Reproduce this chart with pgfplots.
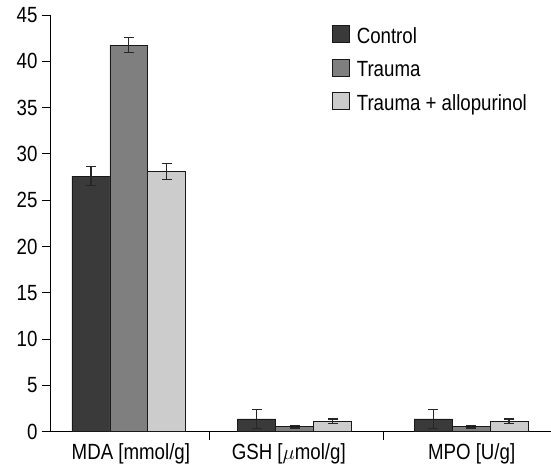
\documentclass[border=0pt]{standalone}
\usepackage{pgfplots}
\pgfplotsset{compat=1.18}
\usepackage{fontspec}
\setmainfont{Liberation Sans}[FakeStretch=0.85]
\definecolor{cCtrl}{HTML}{3A3A3A}
\definecolor{cTr}{HTML}{7F7F7F}
\definecolor{cAllo}{HTML}{CCCCCC}
\newcommand{\fs}{\fontsize{22}{26}\selectfont}
\begin{document}
\begin{tikzpicture}
\begin{axis}[
  at={(0,0)}, anchor=south west,
  scale only axis, width=501pt, height=417pt,
  xmin=50, xmax=551, ymin=0, ymax=45,
  axis lines=left, axis line style={-, line width=0.9pt},
  ytick={0,5,...,45},
  xtick={209.3,383.3}, xticklabels={},
  extra x ticks={131,289,472},
  extra x tick labels={MDA [mmol/g], GSH [$\mu$mol/g], MPO [U/g]},
  extra x tick style={major tick length=0pt, tick label style={yshift=-8pt}},
  tick align=outside, major tick length=8pt,
  tick style={line width=0.9pt, black},
  tick label style={font=\fs},
  yticklabel style={xshift=-1pt},
  /pgf/number format/assume math mode=true,
  ybar=0pt, bar width=38,
  enlargelimits=false,
  clip=false,
  legend style={at={(rel axis cs:0.563,0.976)}, anchor=north west, draw=none, fill=none,
    font=\fs, row sep=12pt, cells={anchor=west}, inner sep=0pt},
  legend image code/.code={\draw[#1, line width=0.8pt] (0pt,-6.5pt) rectangle (17pt,10.5pt); \path (22pt,0pt);},
  error bars/error bar style={line width=1.2pt, black!85},
  error bars/error mark options={rotate=90, mark size=5pt, line width=1.2pt, black!85},
]
\addplot[fill=cCtrl, draw=black!90, line width=0.8pt,
  error bars/.cd, y dir=both, y explicit]
  coordinates {(129,27.6) +- (0,1.0) (295,1.37) +- (0,1.0) (471.5,1.37) +- (0,1.0)};
\addplot[fill=cTr, draw=black!90, line width=0.8pt,
  error bars/.cd, y dir=both, y explicit]
  coordinates {(129,41.75) +- (0,0.8) (295,0.55) +- (0,0.15) (471.5,0.55) +- (0,0.15)};
\addplot[fill=cAllo, draw=black!90, line width=0.8pt,
  error bars/.cd, y dir=both, y explicit]
  coordinates {(129,28.1) +- (0,0.9) (295,1.12) +- (0,0.25) (471.5,1.12) +- (0,0.25)};
\legend{Control, Trauma, Trauma + allopurinol}
\end{axis}
\path (-50pt,-36pt) rectangle (501pt,432pt);
\end{tikzpicture}
\end{document}
